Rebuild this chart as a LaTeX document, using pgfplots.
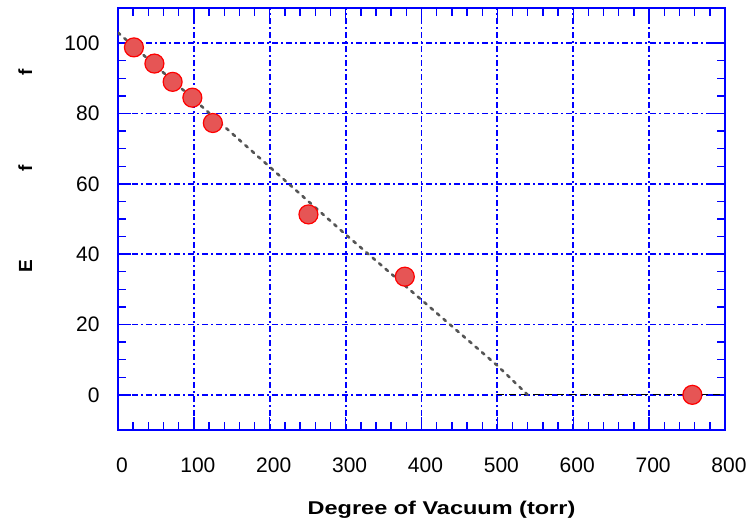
\documentclass[border=0pt]{standalone}
\usepackage{pgfplots}
\pgfplotsset{compat=1.18}
\usepackage{fontspec}
\setmainfont{Liberation Sans}
\definecolor{ptfill}{RGB}{230,85,85}
\definecolor{fitgray}{RGB}{85,85,85}
\begin{document}
\begin{tikzpicture}
\begin{axis}[
  name=ax,
  scale only axis,
  width=607pt, height=422pt,
  xmin=0, xmax=800, ymin=-10, ymax=110,
  xtick={0,100,...,800}, ytick={0,20,...,100},
  minor x tick num=4, minor y tick num=3,
  tick align=inside,
  major tick length=13pt, minor tick length=8pt,
  axis line style={blue, line width=1.8pt},
  every tick/.style={blue, line width=1.4pt},
  grid=major,
  major grid style={draw=blue, line width=1.8pt, dash pattern=on 6pt off 3pt on 2pt off 3pt},
  /pgf/number format/assume math mode=true,
  ticklabel style={font=\fontsize{21}{24}\selectfont},
  xticklabel style={yshift=-24pt, xshift=4pt},
  yticklabel style={xshift=-15pt},
  xlabel={\scalebox{1.27}[1]{\textbf{Degree of Vacuum (torr)}}},
  xlabel style={font=\fontsize{18.5}{22}\selectfont, at={(axis description cs:0.533,-0.19)}, anchor=center},
  ylabel={\textbf{E\hspace{88pt}f\hspace{90pt}f}},
  ylabel style={font=\fontsize{19}{22}\selectfont, at={(axis description cs:-0.153,0.615)}, anchor=center},
]
\addplot[only marks, mark=*, mark size=9.5pt, mark options={fill=ptfill, draw=red, line width=1.2pt}]
coordinates {(21,98.8) (48,94.2) (72,89) (98,84.5) (125,77.3) (251,51.3) (378,33.6) (757,0)};
\addplot[black, line width=1.3pt, dash pattern=on 7pt off 5pt] coordinates {(500,0) (800,0)};
\addplot[fitgray, line width=2.6pt, line cap=round, dash pattern=on 3pt off 5.5pt]
coordinates {(0,103) (100,84) (200,64.8) (300,45.6) (400,27) (500,8.3) (540,0)};
\end{axis}
\pgfresetboundingbox
\path (ax.south west) ++(-118pt,-94pt) (ax.north east) ++(24pt,8pt);
\end{tikzpicture}
\end{document}
